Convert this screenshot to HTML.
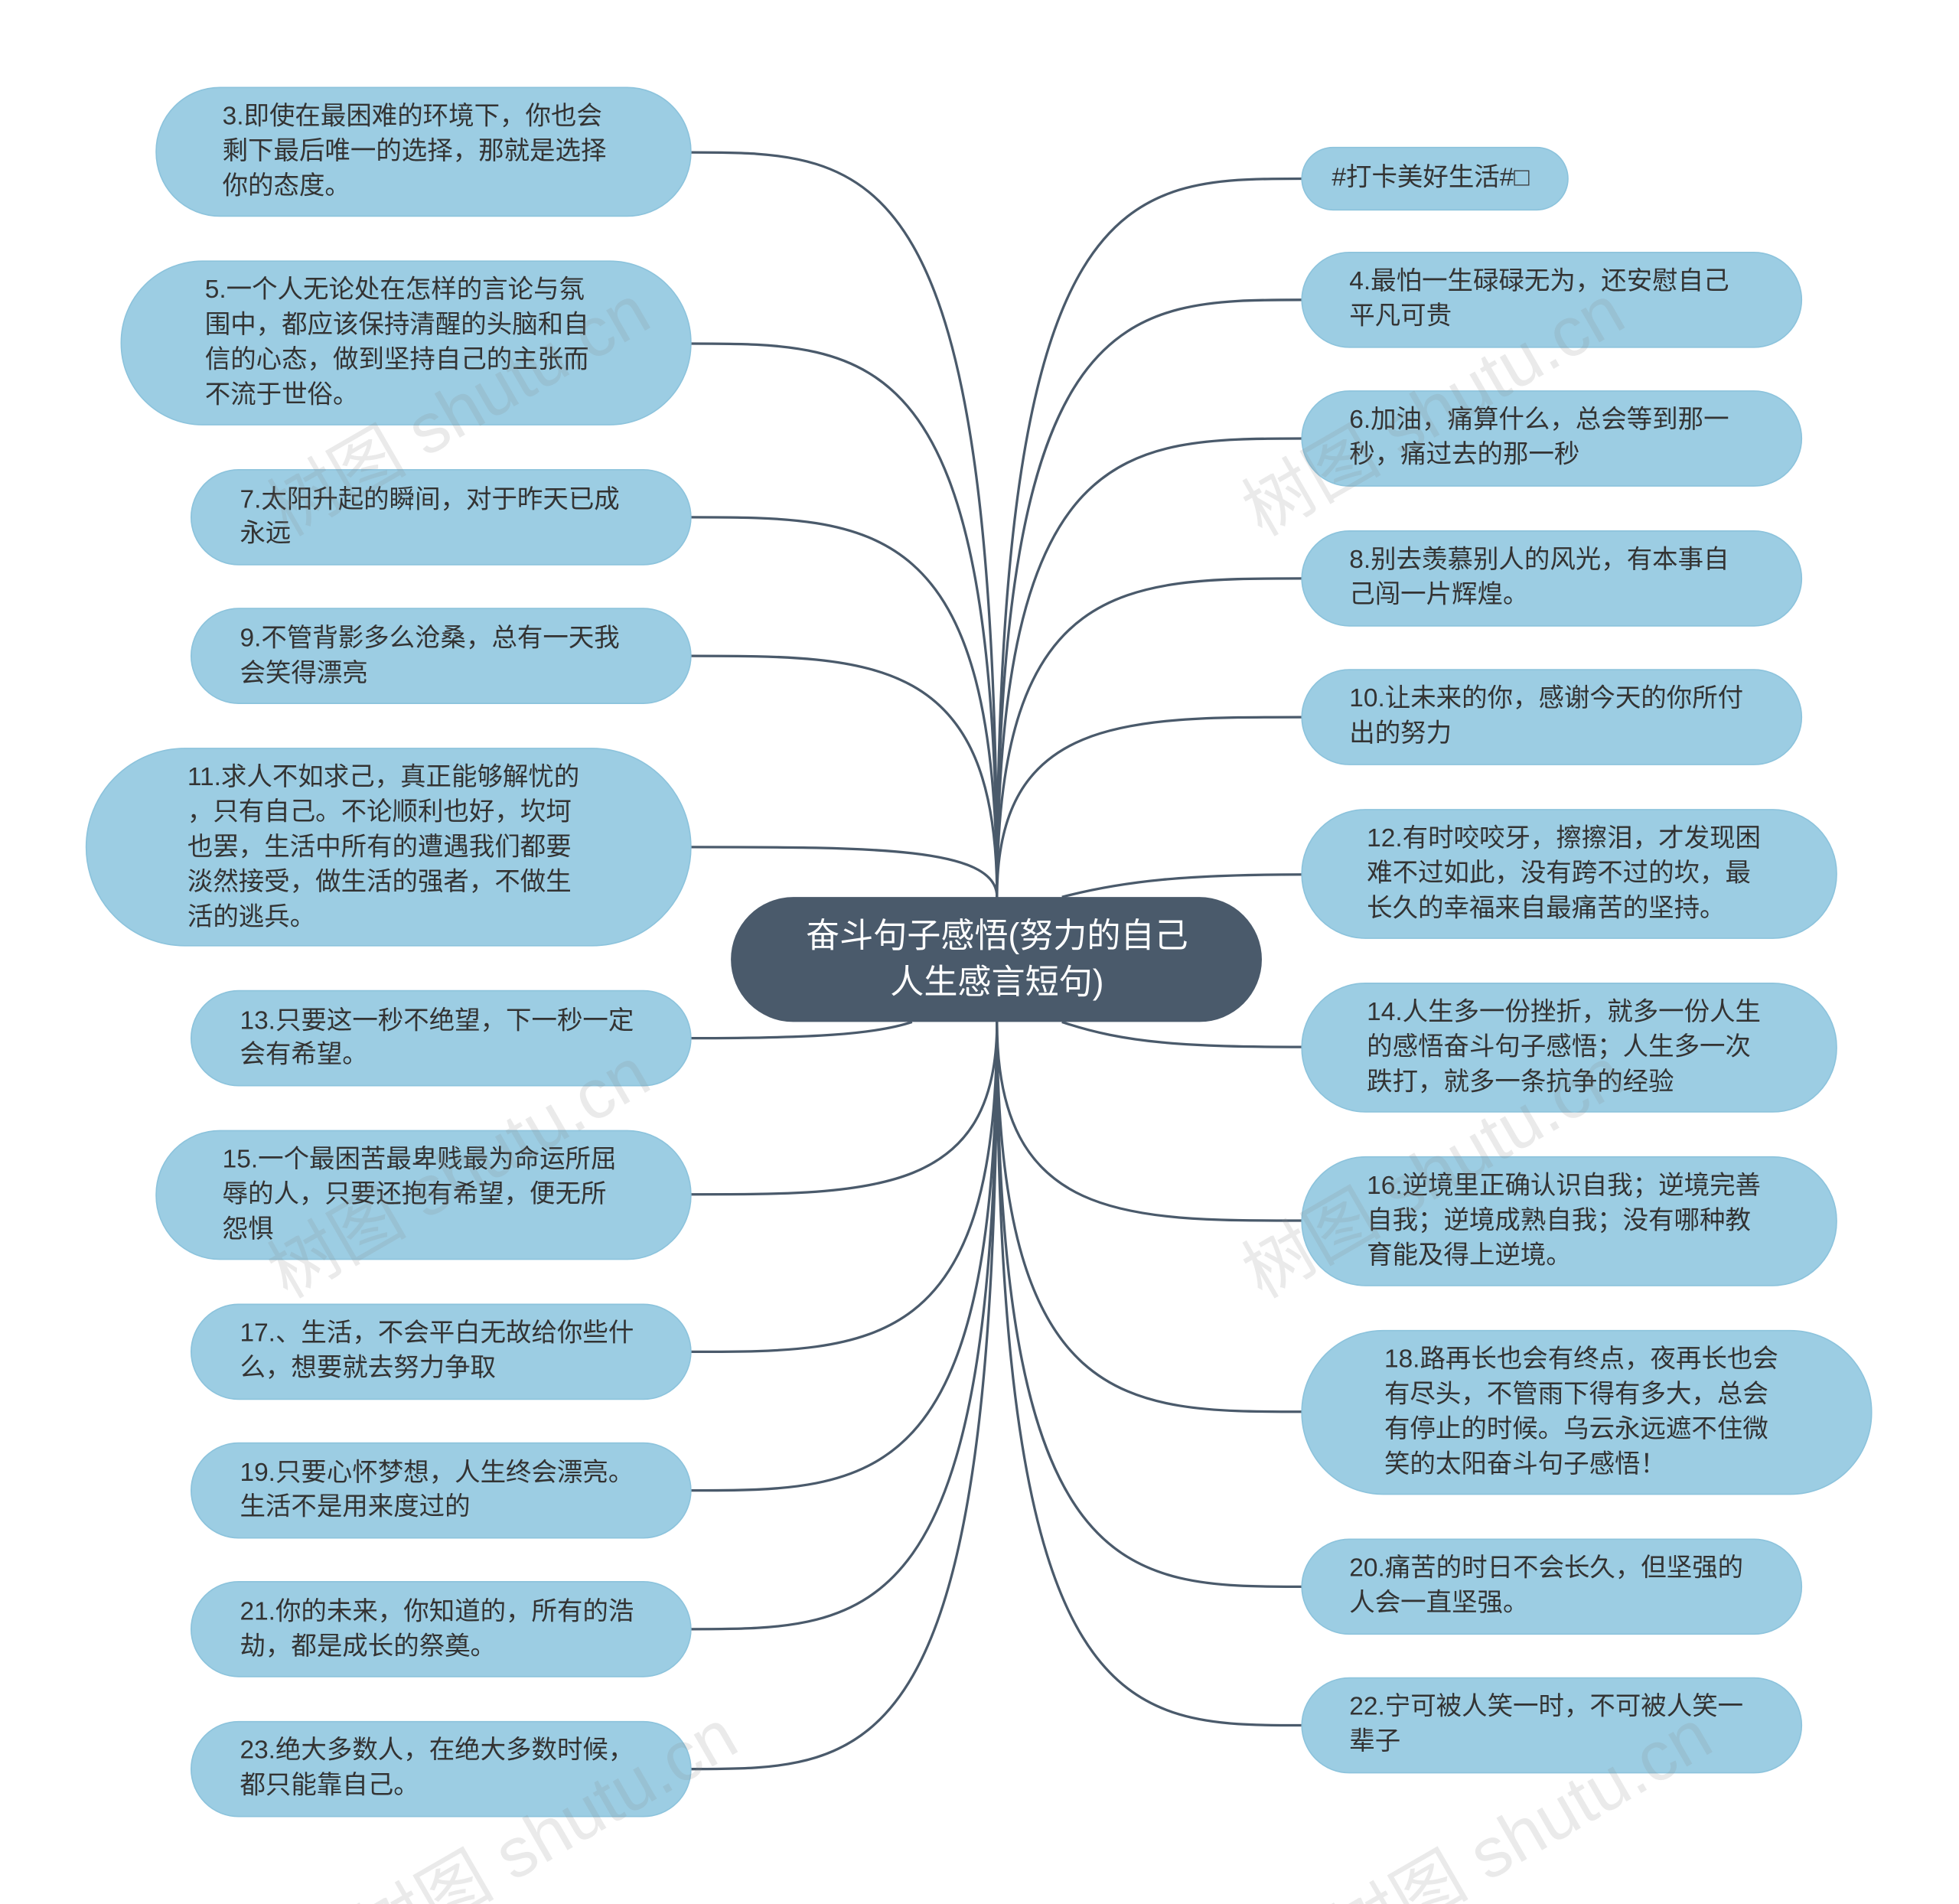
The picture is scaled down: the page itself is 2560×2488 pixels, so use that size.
<!DOCTYPE html>
<html><head><meta charset="utf-8"><style>
html,body{margin:0;padding:0;background:#fff;width:2560px;height:2488px;overflow:hidden;}
svg{display:block;overflow:hidden;}
text{font-family:"Liberation Sans","Noto Sans CJK SC",sans-serif;}
</style></head><body>
<svg width="2560" height="2488" viewBox="0 0 1568 1524" preserveAspectRatio="none" xmlns="http://www.w3.org/2000/svg">
<g fill="none" stroke="#4a5a6b" stroke-width="2">
<path d="M798 718 C798 122,700 122,553 122"/>
<path d="M798 718 C798 275,700 275,553 275"/>
<path d="M798 718 C798 414,700 414,553 414"/>
<path d="M798 718 C798 525,700 525,553 525"/>
<path d="M798 718 C798 678,700 678,553 678"/>
<path d="M730 818 C700 828,650 831,553 831"/>
<path d="M798 818 C798 956,700 956,553 956"/>
<path d="M798 818 C798 1082,700 1082,553 1082"/>
<path d="M798 818 C798 1193,700 1193,553 1193"/>
<path d="M798 818 C798 1304,700 1304,553 1304"/>
<path d="M798 818 C798 1416,700 1416,553 1416"/>
<path d="M798 718 C798 143,900 143,1042 143"/>
<path d="M798 718 C798 240,900 240,1042 240"/>
<path d="M798 718 C798 351,900 351,1042 351"/>
<path d="M798 718 C798 463,900 463,1042 463"/>
<path d="M798 718 C798 574,900 574,1042 574"/>
<path d="M850 718 C900 705,950 700,1042 700"/>
<path d="M850 818 C900 835,950 838,1042 838"/>
<path d="M798 818 C798 977,900 977,1042 977"/>
<path d="M798 818 C798 1130,900 1130,1042 1130"/>
<path d="M798 818 C798 1270,900 1270,1042 1270"/>
<path d="M798 818 C798 1381,900 1381,1042 1381"/>
</g>
<g fill="#9ccde3" stroke="#8cc3dc" stroke-width="1">
<rect x="125" y="70" width="428" height="103" rx="51"/>
<rect x="97" y="209" width="456" height="131" rx="65"/>
<rect x="153" y="376" width="400" height="76" rx="38"/>
<rect x="153" y="487" width="400" height="76" rx="38"/>
<rect x="69" y="599" width="484" height="158" rx="79"/>
<rect x="153" y="793" width="400" height="76" rx="38"/>
<rect x="125" y="905" width="428" height="103" rx="51"/>
<rect x="153" y="1044" width="400" height="76" rx="38"/>
<rect x="153" y="1155" width="400" height="76" rx="38"/>
<rect x="153" y="1266" width="400" height="76" rx="38"/>
<rect x="153" y="1378" width="400" height="76" rx="38"/>
<rect x="1042" y="118" width="213" height="50" rx="25"/>
<rect x="1042" y="202" width="400" height="76" rx="38"/>
<rect x="1042" y="313" width="400" height="76" rx="38"/>
<rect x="1042" y="425" width="400" height="76" rx="38"/>
<rect x="1042" y="536" width="400" height="76" rx="38"/>
<rect x="1042" y="648" width="428" height="103" rx="51"/>
<rect x="1042" y="787" width="428" height="103" rx="51"/>
<rect x="1042" y="926" width="428" height="103" rx="51"/>
<rect x="1042" y="1065" width="456" height="131" rx="65"/>
<rect x="1042" y="1232" width="400" height="76" rx="38"/>
<rect x="1042" y="1343" width="400" height="76" rx="38"/>
</g>
<rect x="585" y="718" width="425" height="100" rx="50" fill="#4a5a6b"/>
<g fill="#fff" font-size="27" text-anchor="middle" dominant-baseline="middle">
<text x="798" y="751">奋斗句子感悟(努力的自己</text>
<text x="798" y="788">人生感言短句)</text>
</g>
<g fill="#333" font-size="20.5" dominant-baseline="middle">
<text x="178" y="94">3.即使在最困难的环境下，你也会</text>
<text x="178" y="122">剩下最后唯一的选择，那就是选择</text>
<text x="178" y="150">你的态度。</text>
<text x="164" y="233">5.一个人无论处在怎样的言论与氛</text>
<text x="164" y="261">围中，都应该保持清醒的头脑和自</text>
<text x="164" y="289">信的心态，做到坚持自己的主张而</text>
<text x="164" y="317">不流于世俗。</text>
<text x="192" y="401">7.太阳升起的瞬间，对于昨天已成</text>
<text x="192" y="428">永远</text>
<text x="192" y="512">9.不管背影多么沧桑，总有一天我</text>
<text x="192" y="540">会笑得漂亮</text>
<text x="150" y="623">11.求人不如求己，真正能够解忧的</text>
<text x="150" y="651">，只有自己。不论顺利也好，坎坷</text>
<text x="150" y="679">也罢，生活中所有的遭遇我们都要</text>
<text x="150" y="707">淡然接受，做生活的强者，不做生</text>
<text x="150" y="735">活的逃兵。</text>
<text x="192" y="818">13.只要这一秒不绝望，下一秒一定</text>
<text x="192" y="845">会有希望。</text>
<text x="178" y="929">15.一个最困苦最卑贱最为命运所屈</text>
<text x="178" y="957">辱的人，只要还抱有希望，便无所</text>
<text x="178" y="985">怨惧</text>
<text x="192" y="1068">17.、生活，不会平白无故给你些什</text>
<text x="192" y="1096">么，想要就去努力争取</text>
<text x="192" y="1180">19.只要心怀梦想，人生终会漂亮。</text>
<text x="192" y="1207">生活不是用来度过的</text>
<text x="192" y="1291">21.你的未来，你知道的，所有的浩</text>
<text x="192" y="1319">劫，都是成长的祭奠。</text>
<text x="192" y="1402">23.绝大多数人，在绝大多数时候，</text>
<text x="192" y="1430">都只能靠自己。</text>
<text x="1066" y="143">#打卡美好生活#□</text>
<text x="1080" y="226">4.最怕一生碌碌无为，还安慰自己</text>
<text x="1080" y="254">平凡可贵</text>
<text x="1080" y="337">6.加油，痛算什么，总会等到那一</text>
<text x="1080" y="365">秒，痛过去的那一秒</text>
<text x="1080" y="449">8.别去羡慕别人的风光，有本事自</text>
<text x="1080" y="477">己闯一片辉煌。</text>
<text x="1080" y="560">10.让未来的你，感谢今天的你所付</text>
<text x="1080" y="588">出的努力</text>
<text x="1094" y="672">12.有时咬咬牙，擦擦泪，才发现困</text>
<text x="1094" y="700">难不过如此，没有跨不过的坎，最</text>
<text x="1094" y="728">长久的幸福来自最痛苦的坚持。</text>
<text x="1094" y="811">14.人生多一份挫折，就多一份人生</text>
<text x="1094" y="839">的感悟奋斗句子感悟；人生多一次</text>
<text x="1094" y="867">跌打，就多一条抗争的经验</text>
<text x="1094" y="950">16.逆境里正确认识自我；逆境完善</text>
<text x="1094" y="978">自我；逆境成熟自我；没有哪种教</text>
<text x="1094" y="1006">育能及得上逆境。</text>
<text x="1108" y="1089">18.路再长也会有终点，夜再长也会</text>
<text x="1108" y="1117">有尽头，不管雨下得有多大，总会</text>
<text x="1108" y="1145">有停止的时候。乌云永远遮不住微</text>
<text x="1108" y="1173">笑的太阳奋斗句子感悟！</text>
<text x="1080" y="1256">20.痛苦的时日不会长久，但坚强的</text>
<text x="1080" y="1284">人会一直坚强。</text>
<text x="1080" y="1367">22.宁可被人笑一时，不可被人笑一</text>
<text x="1080" y="1395">辈子</text>
</g>
<g fill="#888" fill-opacity="0.18" font-size="56">
<text transform="translate(230 430) rotate(-30)">树图 shutu.cn</text>
<text transform="translate(1010 430) rotate(-30)">树图 shutu.cn</text>
<text transform="translate(230 1040) rotate(-30)">树图 shutu.cn</text>
<text transform="translate(1010 1040) rotate(-30)">树图 shutu.cn</text>
<text transform="translate(300 1570) rotate(-30)">树图 shutu.cn</text>
<text transform="translate(1080 1570) rotate(-30)">树图 shutu.cn</text>
</g>
</svg>
</body></html>
